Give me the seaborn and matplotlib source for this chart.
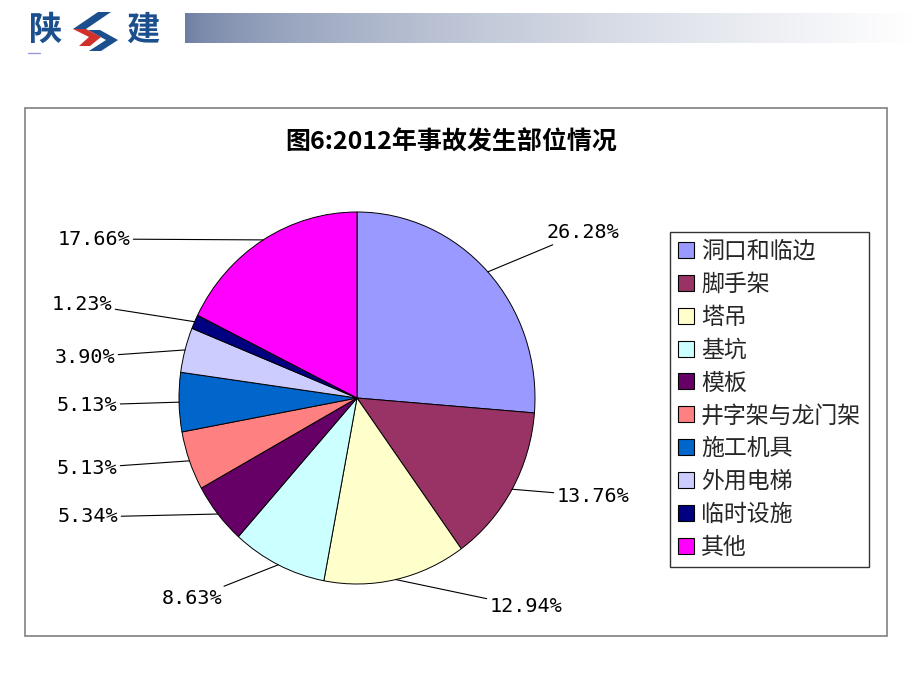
import numpy as np
import pandas as pd
import matplotlib
matplotlib.use("Agg")
import matplotlib.pyplot as plt
from matplotlib.patches import Rectangle, Polygon
import seaborn as sns

categories = ["洞口和临边", "脚手架", "塔吊", "基坑", "模板", "井字架与龙门架",
              "施工机具", "外用电梯", "临时设施", "其他"]
values = [26.28, 13.76, 12.94, 8.63, 5.34, 5.13, 5.13, 3.90, 1.23, 17.66]
colors = ["#9999FF", "#993366", "#FFFFCC", "#CCFFFF", "#660066", "#FF8080",
          "#0066CC", "#CCCCFF", "#000080", "#FF00FF"]
title = "图6:2012年事故发生部位情况"

# label positions (pixel layout), and horizontal alignment
label_px = [(547, 232), (557, 496), (490, 607), (222, 599), (118, 517),
            (117, 468), (117, 405), (115, 357), (112, 304), (130, 239)]
label_ha = ["left", "left", "left", "right", "right", "right", "right",
            "right", "right", "right"]

df = pd.DataFrame({"category": categories, "value": values, "color": colors})

sns.set_theme(style="white")
plt.rcParams["font.family"] = ["Noto Sans CJK SC", "DejaVu Sans"]

W, H = 920, 690
fig = plt.figure(figsize=(9.2, 6.9), dpi=100)
fig.patch.set_facecolor("white")

def fx(px):
    return px / W

def fy(py):
    return 1 - py / H

# ---------------- header ----------------
hdr = fig.add_axes([fx(185), fy(43), fx(915) - fx(185), fy(13) - fy(43)])
grad = np.linspace(0, 1, 256)[None, :]
c0 = np.array([0x6C, 0x7D, 0xA2]) / 255.0
c1 = np.array([1.0, 1.0, 1.0])
img = c0[None, None, :] * (1 - grad[..., None] ** 0.6) + c1[None, None, :] * (grad[..., None] ** 0.6)
hdr.imshow(img, aspect="auto", extent=[0, 1, 0, 1])
hdr.set_axis_off()

logo_blue = "#1C4F8E"
logo_red = "#D2302A"
fig.text(fx(46), fy(30), "陕", fontsize=24, fontweight="bold", color=logo_blue,
         ha="center", va="center")
fig.text(fx(143), fy(30), "建", fontsize=24, fontweight="bold", color=logo_blue,
         ha="center", va="center")

def poly(pts, color):
    P = Polygon([(fx(x), fy(y)) for x, y in pts], closed=True, transform=fig.transFigure,
                facecolor=color, edgecolor="none")
    fig.add_artist(P)

poly([(98, 12), (111, 12), (86, 29), (73, 29)], logo_blue)
poly([(88, 30), (100, 30), (118, 40), (101, 51), (89, 51), (106, 40)], logo_blue)
poly([(73, 29), (86, 29), (101, 37), (90, 46), (79, 46), (89, 37)], logo_red)
fig.add_artist(plt.Line2D([fx(28), fx(40)], [fy(53), fy(53)], transform=fig.transFigure,
                          color="#9999DD", lw=1))

# ---------------- chart frame ----------------
fig.add_artist(Rectangle((fx(25), fy(636)), fx(887) - fx(25), fy(108) - fy(636),
                         transform=fig.transFigure, facecolor="none",
                         edgecolor="#808080", lw=1.2))

fig.text(fx(451), fy(143), title, fontsize=18, fontweight="bold", color="black",
         ha="center", va="center")

# ---------------- pie ----------------
cx, cy, rx, ry = 357, 398, 178, 186
ax = fig.add_axes([fx(25), fy(636), fx(887) - fx(25), fy(108) - fy(636)])
wedges, _ = ax.pie(df["value"], colors=df["color"], startangle=90, counterclock=False,
                   radius=1, center=(0, 0),
                   wedgeprops=dict(edgecolor="black", linewidth=0.7))
ax.set_aspect("auto")
ax.set_xlim((25 - cx) / rx, (887 - cx) / rx)
ax.set_ylim((cy - 636) / ry, (cy - 108) / ry)
ax.set_axis_off()

for w, v, (px, py), ha in zip(wedges, df["value"], label_px, label_ha):
    theta = np.deg2rad((w.theta1 + w.theta2) / 2)
    anchor = (np.cos(theta), np.sin(theta))
    tx, ty = (px - cx) / rx, (cy - py) / ry
    ax.annotate(f"{v:.2f}%", xy=anchor, xytext=(tx, ty), ha=ha, va="center",
                fontsize=14.5, family="DejaVu Sans Mono", color="black",
                arrowprops=dict(arrowstyle="-", color="black", lw=0.8,
                                shrinkA=0, shrinkB=0))

leg = ax.legend(wedges, df["category"], loc="upper left",
                bbox_to_anchor=(fx(670), fy(232)), bbox_transform=fig.transFigure,
                borderaxespad=0, frameon=True, fancybox=False, fontsize=16.5,
                handlelength=0.7, handleheight=0.7, handletextpad=0.3,
                labelspacing=0.43, borderpad=0.35)
leg.get_frame().set_edgecolor("black")
leg.get_frame().set_linewidth(1.0)
for h in leg.legend_handles:
    h.set_edgecolor("black")
    h.set_linewidth(0.8)

fig.savefig("out.png", dpi=100)
